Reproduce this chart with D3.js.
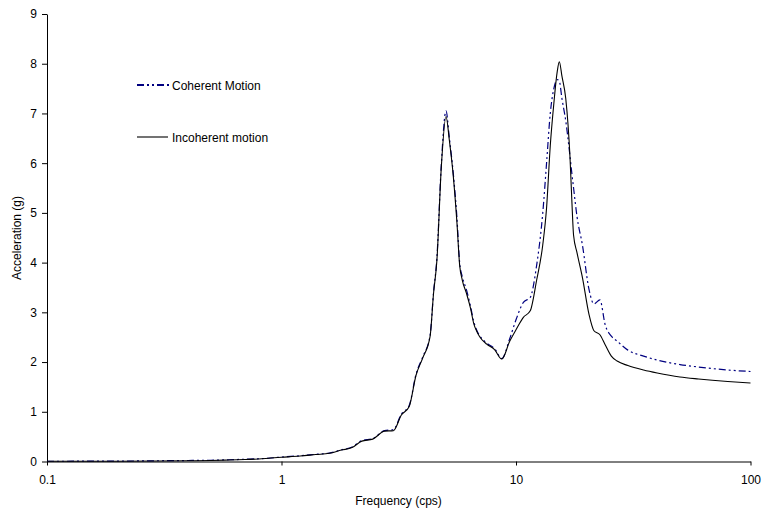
<!DOCTYPE html>
<html><head><meta charset="utf-8">
<script src="https://cdn.jsdelivr.net/npm/d3@7"></script>
<style>body{margin:0;background:#fff}svg{display:block}text{font-family:"Liberation Sans",Arial,sans-serif;font-size:12px;fill:#000}</style>
</head><body><svg id="c" width="762" height="515"></svg>
<script>
const freq = [0.1,0.2,0.3,0.4,0.5,0.6,0.7,0.8,0.9,1.0,1.2,1.4,1.6,1.8,2.0,2.2,2.45,2.75,3.0,3.25,3.5,3.75,4.0,4.3,4.45,4.6,4.8,5.03,5.2,5.4,5.6,5.75,5.9,6.15,6.4,6.6,6.8,7.0,7.5,8.1,8.7,9.4,10.0,10.75,11.5,12.25,13.0,13.5,14.0,14.5,15.0,15.3,15.7,16.3,17.0,17.3,17.6,18.2,19.2,20.5,21.5,22.8,24.0,25.5,27.0,30,35,40,50,60,80,100];
const coherent = [0.005,0.008,0.015,0.02,0.025,0.035,0.045,0.055,0.07,0.09,0.115,0.145,0.17,0.235,0.29,0.42,0.46,0.62,0.64,0.96,1.12,1.76,2.10,2.53,3.40,4.1,5.95,7.05,6.5,5.8,4.9,4.0,3.72,3.45,3.12,2.82,2.64,2.53,2.38,2.27,2.07,2.47,2.85,3.2,3.3,3.95,4.99,6.0,7.0,7.5,7.68,7.65,7.3,6.85,6.13,5.8,5.5,4.93,4.35,3.45,3.17,3.25,2.75,2.52,2.42,2.24,2.12,2.04,1.95,1.90,1.84,1.81];
const incoherent = [0.005,0.005,0.01,0.015,0.02,0.03,0.04,0.05,0.07,0.085,0.11,0.14,0.165,0.23,0.28,0.41,0.45,0.61,0.62,0.94,1.10,1.74,2.08,2.51,3.38,4.05,5.9,6.94,6.45,5.75,4.8,3.95,3.65,3.38,3.08,2.78,2.62,2.51,2.36,2.25,2.06,2.42,2.65,2.90,3.03,3.65,4.35,5.1,6.35,7.2,7.85,8.04,7.75,7.3,6.1,5.26,4.55,4.2,3.7,2.95,2.63,2.55,2.35,2.12,2.02,1.93,1.84,1.78,1.70,1.66,1.61,1.58];
const xTicks = [0.1,1,10,100];
const yTicks = [0,1,2,3,4,5,6,7,8,9];
const seriesNames = ["Coherent Motion","Incoherent motion"];

const svg = d3.select("#c");
const x = d3.scaleLog().domain([0.1,100]).range([47,750.5]);
const y = d3.scaleLinear().domain([0,9]).range([461.5,14]);

const gy = svg.append("g").attr("transform","translate(47,0)")
  .call(d3.axisLeft(y).tickValues(yTicks).tickSize(5).tickSizeOuter(0).tickPadding(5).tickFormat(d3.format("d")));
const gx = svg.append("g").attr("transform","translate(0,461.5)")
  .call(d3.axisBottom(x).tickValues(xTicks).tickSize(4).tickSizeOuter(0).tickPadding(10).tickFormat(d=>String(d)));
[gx,gy].forEach(g=>{g.selectAll("path,line").attr("stroke","#000").attr("stroke-width",1);
  g.selectAll("text").style("font-family",'"Liberation Sans",Arial,sans-serif').style("font-size","12px").attr("fill","#000");});

const line = d3.line().x((d,i)=>x(freq[i])).y(d=>y(d)).curve(d3.curveMonotoneX);
const dash = "7,3,2,3,2,3";
svg.append("path").attr("d",line(coherent)).attr("fill","none").attr("stroke","#000080").attr("stroke-width",1.2).attr("stroke-dasharray",dash);
svg.append("path").attr("d",line(incoherent)).attr("fill","none").attr("stroke","#000").attr("stroke-width",1.1);

// legend
const lg = svg.append("g");
lg.append("line").attr("x1",137).attr("x2",170).attr("y1",85).attr("y2",85).attr("stroke","#000080").attr("stroke-width",2).attr("stroke-dasharray",dash);
lg.append("text").attr("x",172).attr("y",89.5).text(seriesNames[0]);
lg.append("line").attr("x1",137).attr("x2",168).attr("y1",137).attr("y2",137).attr("stroke","#000").attr("stroke-width",1.1);
lg.append("text").attr("x",172).attr("y",141.5).text(seriesNames[1]);

svg.append("text").attr("x",398.5).attr("y",505).attr("text-anchor","middle").text("Frequency (cps)");
svg.append("text").attr("transform","translate(21,238) rotate(-90)").attr("text-anchor","middle").text("Acceleration (g)");
</script></body></html>
